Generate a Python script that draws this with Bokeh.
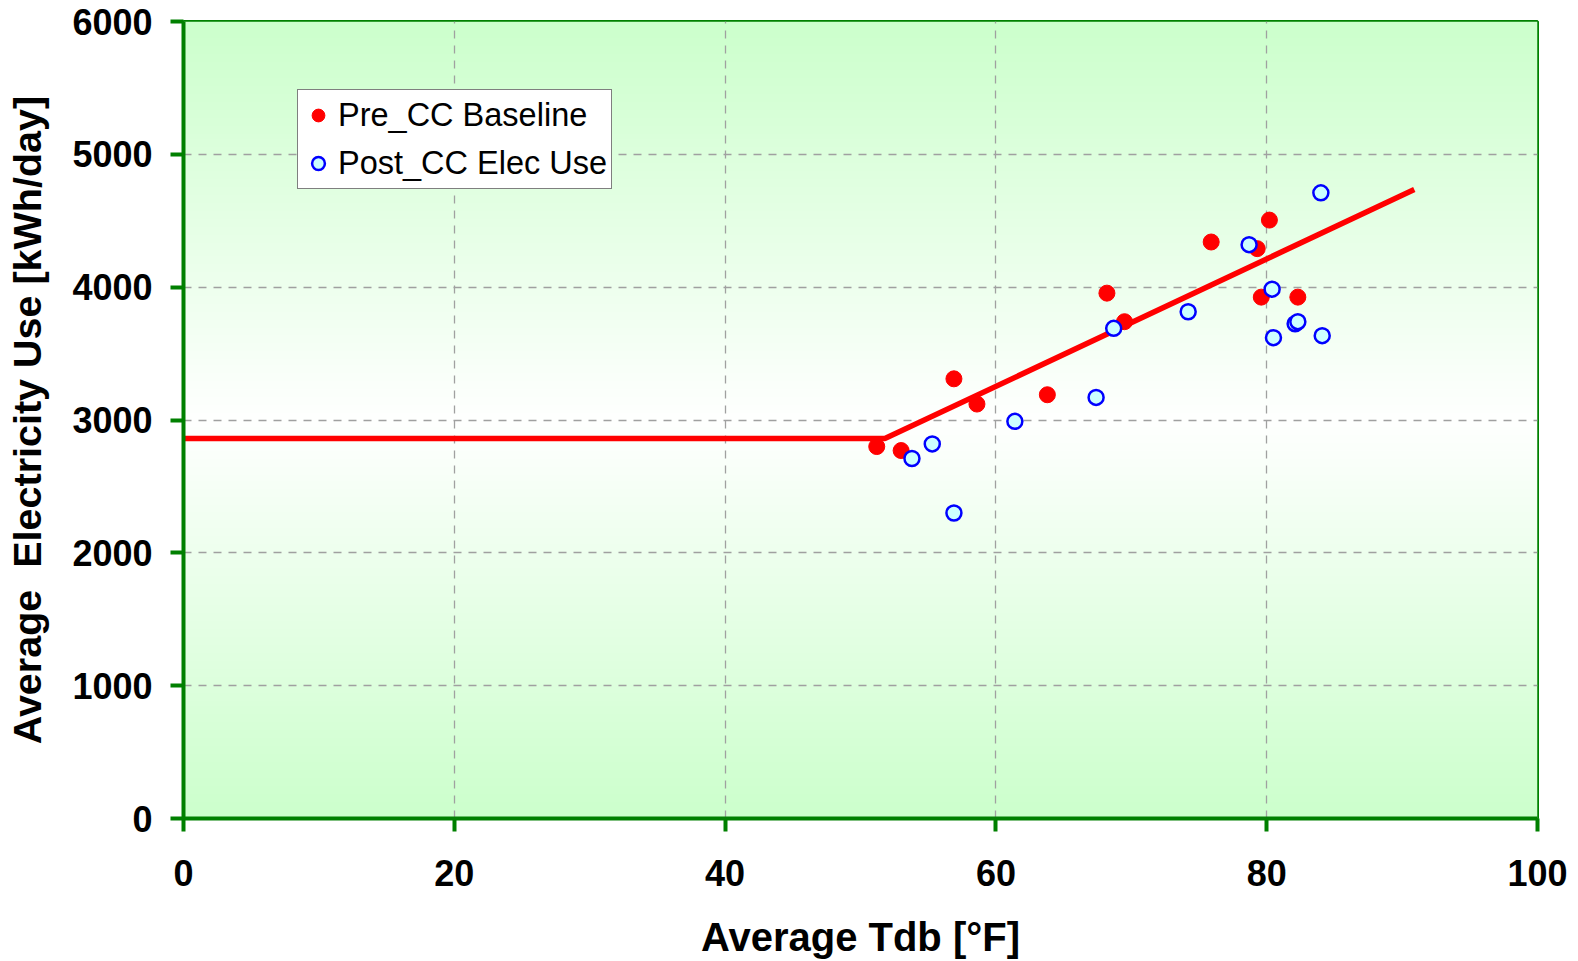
import numpy as np
from bokeh.plotting import figure
from bokeh.models import ColumnDataSource, Legend, LegendItem, FixedTicker, Range1d
from bokeh.embed import file_html
from bokeh.resources import INLINE

# ---- data ----
pre_x = [51.2, 53.0, 56.9, 58.6, 63.8, 68.2, 69.5, 75.9, 79.3, 80.2, 79.6, 82.3]
pre_y = [2800, 2770, 3310, 3120, 3190, 3955, 3740, 4340, 4290, 4505, 3925, 3925]

post_x = [53.8, 55.3, 56.9, 61.4, 67.4, 68.7, 74.2, 78.7, 80.4, 80.5, 82.1, 82.3, 84.0, 84.1]
post_y = [2710, 2820, 2300, 2990, 3170, 3690, 3815, 4320, 3985, 3620, 3725, 3740, 4710, 3635]

fit_x = [0, 51.8, 90.9]
fit_y = [2860, 2860, 4735]

x_ticks = [0, 20, 40, 60, 80, 100]
y_ticks = [0, 1000, 2000, 3000, 4000, 5000, 6000]

FONT = "Liberation Sans"
GREEN = "#008000"

p = figure(width=1570, height=961, output_backend="svg", toolbar_location=None,
           x_range=Range1d(0, 100), y_range=Range1d(0, 6000),
           min_border_left=183, min_border_right=33, min_border_top=21, min_border_bottom=143)
p.background_fill_color = "white"
p.border_fill_color = "white"
p.outline_line_color = GREEN
p.outline_line_width = 3

# gradient background (light green -> white -> light green)
n = 300
t = np.linspace(0, 1, n)
k = np.abs(t - 0.5) * 2  # 0 at centre, 1 at edges
r = (255 - (255 - 204) * k).astype(np.uint32)
g = np.full(n, 255, dtype=np.uint32)
b = (255 - (255 - 204) * k).astype(np.uint32)
a = np.full(n, 255, dtype=np.uint32)
img = (a << 24) | (b << 16) | (g << 8) | r
img = img.reshape(n, 1)
p.image_rgba(image=[img], x=0, y=0, dw=100, dh=6000, level="image")

# grid
for grid in (p.xgrid, p.ygrid):
    grid.grid_line_color = "#a0a0a0"
    grid.grid_line_dash = "8 7"
    grid.grid_line_width = 1.3
p.xgrid.ticker = FixedTicker(ticks=x_ticks)
p.ygrid.ticker = FixedTicker(ticks=y_ticks)

# axes
p.xaxis.ticker = FixedTicker(ticks=x_ticks)
p.yaxis.ticker = FixedTicker(ticks=y_ticks)
for ax in (p.xaxis[0], p.yaxis[0]):
    ax.axis_line_color = GREEN
    ax.axis_line_width = 4
    ax.major_tick_line_color = GREEN
    ax.major_tick_line_width = 4
    ax.major_tick_out = 13
    ax.major_tick_in = 0
    ax.minor_tick_line_color = None
    ax.major_label_text_font = FONT
    ax.major_label_text_font_style = "bold"
    ax.major_label_text_font_size = "36px"
    ax.major_label_text_color = "black"
    ax.axis_label_text_font = FONT
    ax.axis_label_text_font_style = "bold"
    ax.axis_label_text_font_size = "40px"
    ax.axis_label_text_color = "black"
p.yaxis.axis_label_text_font_size = "39.5px"

p.xaxis.axis_label = "Average Tdb [°F]"
p.yaxis.axis_label = "Average\u00a0 Electricity Use [kWh/day]"
p.xaxis.major_label_standoff = 28
p.yaxis.major_label_standoff = 18
p.xaxis.axis_label_standoff = 26
p.yaxis.axis_label_standoff = 20

# fit line
p.line(fit_x, fit_y, line_color="#ff0000", line_width=5.5)

# points
r_pre = p.scatter(pre_x, pre_y, size=16, marker="circle", fill_color="#ff0000", line_color="#ff0000")
r_post = p.scatter(post_x, post_y, size=15, marker="circle", fill_color="#ccffff",
                   line_color="#0000ff", line_width=2.5)

legend = Legend(items=[LegendItem(label="Pre_CC Baseline", renderers=[r_pre]),
                       LegendItem(label="Post_CC Elec Use", renderers=[r_post])],
                location=(114, 629))
legend.label_text_font = FONT
legend.label_text_font_size = "32.5px"
legend.label_text_color = "black"
legend.border_line_color = "black"
legend.border_line_width = 1
legend.background_fill_color = "white"
legend.background_fill_alpha = 1
legend.padding = 4
legend.spacing = 6
legend.margin = 0
legend.glyph_width = 32
legend.glyph_height = 42
legend.label_standoff = 4
legend.label_height = 42
p.add_layout(legend, "center")

open("out.html", "w").write(file_html(p, INLINE))
